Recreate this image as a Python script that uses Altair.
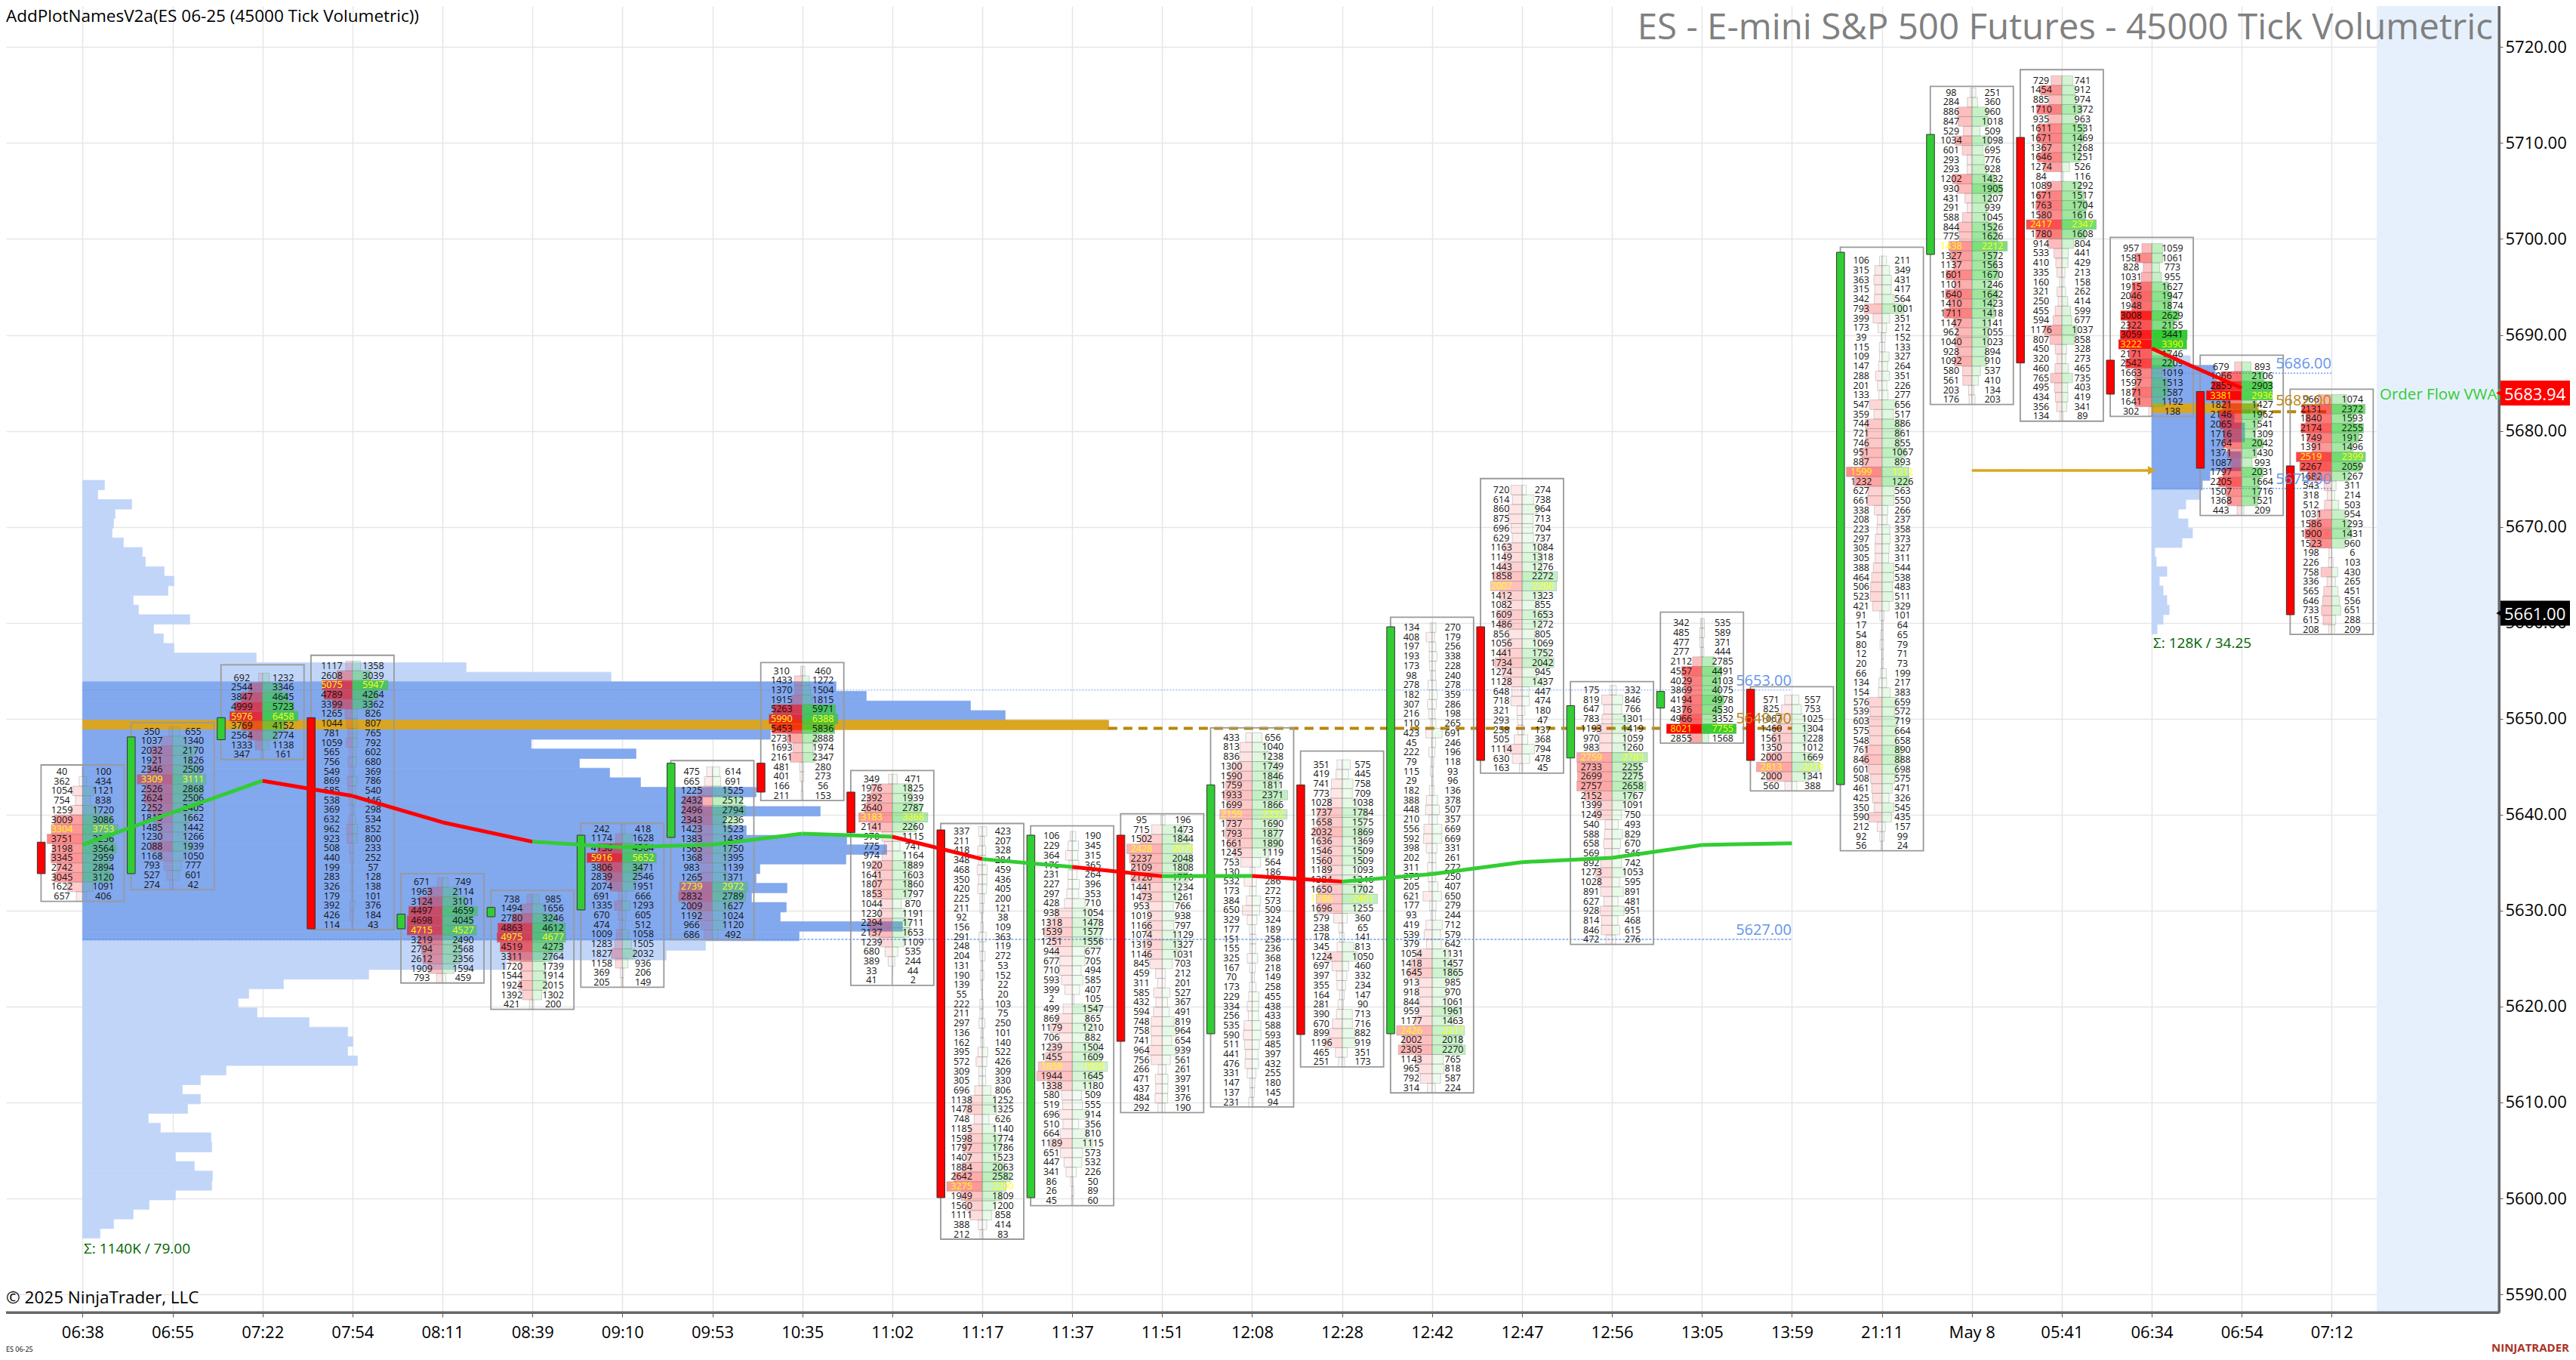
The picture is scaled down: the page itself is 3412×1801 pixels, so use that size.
import json
import altair as alt
import pandas as pd

alt.data_transformers.disable_max_rows()

TICKS = ["06:38","06:55","07:22","07:54","08:11","08:39","09:10","09:53","10:35","11:02","11:17","11:37","11:51",
         "12:08","12:28","12:42","12:47","12:56","13:05","13:59","21:11","May 8","05:41","06:34","06:54","07:12"]
ROW_TOP = [5644.47,5648.68,5654.25,5655.5,5632.95,5631.2,5638.51,5644.47,5654.97,5643.71,5638.25,5637.75,5639.44,
           5648.03,5645.21,5659.5,5673.83,5652.97,5659.95,5651.97,5697.73,5715.25,5716.51,5699.02,5686.69,5683.28]
BOX_TOP = [5645.18,5649.59,5655.62,5656.61,5633.85,5632.1,5639.1,5645.63,5655.86,5644.6,5639.08,5638.84,5640.1,
           5649.05,5646.62,5660.58,5675.03,5653.86,5661.1,5653.34,5699.15,5715.91,5717.65,5700.16,5687.89,5684.34]
CANDLE_TOP = [5637.13,5648.1,5650.11,5650.11,5629.63,5630.33,5637.86,5645.36,5645.36,5642.35,5638.41,5637.86,5637.86,
              5643.1,5643.1,5659.58,5659.58,5651.36,5652.84,5653.07,5698.62,5710.9,5710.59,5687.37,5684.1,5676.35]
CANDLE_BOT = [5633.85,5633.85,5647.81,5628.1,5628.1,5629.36,5630.07,5637.62,5642.35,5638.12,5600.08,5600.08,5616.37,
              5617.16,5617.08,5617.16,5645.65,5645.91,5651.11,5645.65,5643.13,5698.39,5687.08,5683.83,5676.11,5660.84]
CANDLE_UP = [0,1,1,0,1,1,1,1,0,0,0,1,0,1,0,1,0,1,1,0,1,1,0,0,0,0]

BIDS = [
 [40,362,1054,754,1259,3009,3304,3751,3198,3345,2742,3045,1622,657],
 [350,1037,2032,1921,2346,3309,2526,2624,2252,1815,1485,1230,2088,1168,793,527,274],
 [692,2544,3847,4999,5976,3769,2564,1333,347],
 [1117,2608,5075,4789,3399,1265,1044,781,1059,565,756,549,869,685,538,369,632,962,923,508,440,199,283,326,179,392,426,114],
 [671,1963,3124,4497,4698,4715,3219,2794,2612,1909,793],
 [738,1494,2780,4863,4975,4519,3311,1720,1544,1924,1392,421],
 [242,1174,4136,5916,3806,2839,2074,691,1335,670,474,1009,1283,1827,1158,369,205],
 [475,665,1225,2432,2496,2343,1423,1383,1565,1368,983,1265,2739,2832,2009,1192,966,686],
 [310,1433,1370,1915,5263,5990,5453,2731,1693,2161,481,401,166,211],
 [349,1976,2392,2640,3183,2141,970,775,974,1920,1641,1807,1853,1044,1230,2294,2137,1239,680,389,33,41],
 [337,211,418,348,468,350,420,225,211,92,156,291,248,204,131,190,139,55,222,211,297,136,162,395,572,309,305,696,1138,1478,748,1185,1598,1797,1407,1884,2642,3275,1949,1560,1111,388,212],
 [106,229,364,176,231,227,297,428,938,1318,1539,1251,944,677,710,593,399,2,499,869,1179,706,1239,1455,1858,1944,1338,580,519,696,510,664,1189,651,447,341,86,26,45],
 [95,715,1502,2428,2237,2109,2126,1441,1473,953,1019,1166,1074,1319,1146,845,459,311,585,432,594,748,758,741,964,756,266,471,437,484,292],
 [433,813,836,1300,1590,1759,1933,1699,2159,1737,1793,1661,1245,753,130,532,173,384,650,329,177,151,155,325,167,70,173,229,334,256,535,590,511,441,476,331,147,137,231],
 [351,419,741,773,1028,1737,1658,2032,1636,1546,1560,1189,1384,1650,1786,1696,579,238,178,345,1224,697,397,355,164,281,390,670,899,1196,465,251],
 [134,408,197,193,173,98,278,182,307,216,110,423,45,222,79,115,29,182,388,448,210,556,592,398,202,311,273,205,621,177,93,419,539,379,1054,1418,1645,913,918,844,959,1177,2426,2002,2305,1143,965,792,314],
 [720,614,860,875,696,629,1163,1149,1443,1858,2007,1412,1082,1609,1486,856,1056,1441,1734,1274,1128,648,718,321,293,258,505,1114,630,163],
 [175,819,647,783,1193,970,983,2759,2733,2699,2757,2152,1399,1249,540,588,658,569,892,1273,1028,891,627,928,814,846,472],
 [342,485,477,277,2112,4557,4029,3869,4194,4376,4966,8021,2855],
 [571,825,1067,1460,1561,1350,2000,2813,2000,560],
 [106,315,363,315,342,793,399,173,39,115,109,147,288,201,133,547,359,744,721,746,951,887,1599,1232,627,661,338,208,223,297,305,305,388,464,506,523,421,91,17,54,80,12,20,66,134,154,576,539,603,575,548,761,846,601,508,461,425,350,590,212,92,56],
 [98,284,886,847,529,1034,601,293,293,1202,930,431,291,588,844,775,1438,1327,1137,1601,1101,1640,1410,1711,1147,962,1040,928,1092,580,561,203,176],
 [729,1454,885,1710,935,1611,1671,1367,1646,1274,84,1089,1671,1763,1580,2417,1780,914,533,410,335,160,321,250,455,594,1176,807,450,320,460,765,495,434,356,134],
 [957,1581,828,1031,1915,2046,1948,3008,2322,3059,3222,2171,2542,1663,1597,1871,1641,302],
 [679,1966,2855,3381,1821,2146,2065,1716,1764,1371,1087,1797,2205,1507,1368,443],
 [966,2131,1840,2174,1749,1391,2519,2267,1682,543,318,512,1031,1586,1900,1523,198,226,758,336,565,646,733,615,208],
]
ASKS = [
 [100,434,1121,838,1720,3086,3753,3256,3564,2959,2894,3120,1091,406],
 [655,1340,2170,1826,2509,3111,2868,2506,2405,1662,1442,1266,1939,1050,777,601,42],
 [1232,3346,4645,5723,6458,4152,2774,1138,161],
 [1358,3039,5947,4264,3362,826,807,765,792,602,680,369,786,540,446,298,534,852,800,233,252,57,128,138,101,376,184,43],
 [749,2114,3101,4659,4045,4527,2490,2568,2356,1594,459],
 [985,1656,3246,4612,4677,4273,2764,1739,1914,2015,1302,200],
 [418,1628,4564,5652,3471,2546,1951,666,1293,605,512,1058,1505,2032,936,206,149],
 [614,691,1525,2512,2794,2236,1523,1438,1750,1395,1139,1371,2972,2789,1627,1024,1120,492],
 [460,1272,1504,1815,5971,6388,5836,2888,1974,2347,280,273,56,153],
 [471,1825,1939,2787,3368,2260,1115,741,1164,1889,1603,1860,1797,870,1191,1711,1653,1109,535,244,44,2],
 [423,207,328,284,459,436,405,200,121,38,109,363,119,272,53,152,22,20,103,75,250,101,140,522,426,309,330,806,1252,1325,626,1140,1774,1786,1523,2063,2582,2200,1809,1200,858,414,83],
 [190,345,315,365,264,396,353,710,1054,1478,1577,1556,677,705,494,585,407,105,1547,865,1210,882,1504,1609,1928,1645,1180,509,555,914,356,810,1115,573,532,226,50,89,60],
 [196,1473,1844,2073,2048,1808,1770,1234,1261,766,938,797,1129,1327,1031,703,212,201,527,367,491,819,964,654,939,561,261,397,391,376,190],
 [656,1040,1238,1749,1846,1811,2371,1866,2332,1690,1877,1890,1119,564,186,286,272,573,509,324,189,258,236,368,218,149,258,455,438,433,588,593,485,397,432,255,180,145,94],
 [575,445,758,709,1038,1784,1575,1869,1369,1509,1509,1093,1346,1702,2461,1255,360,65,141,813,1050,460,332,234,147,90,713,716,882,919,351,173],
 [270,179,256,338,228,240,278,359,286,198,265,691,246,196,118,93,96,136,378,507,357,669,669,331,261,272,250,407,650,279,244,712,579,642,1131,1457,1865,985,970,1061,1961,1463,2217,2018,2270,765,818,587,224],
 [274,738,964,713,704,737,1084,1318,1276,2272,2206,1323,855,1653,1272,805,1069,1752,2042,945,1437,447,474,180,47,137,368,794,478,45],
 [332,846,766,1301,1419,1059,1260,2783,2255,2275,2658,1767,1091,750,493,829,670,546,742,1053,595,891,481,951,468,615,276],
 [535,589,371,444,2785,4491,4103,4075,4978,4530,3352,7755,1568],
 [557,753,1025,1304,1228,1012,1669,2219,1341,388],
 [211,349,431,417,564,1001,351,212,152,133,327,264,351,226,277,656,517,886,861,855,1067,893,1212,1226,563,550,266,237,358,373,327,311,544,538,483,511,329,101,64,65,79,71,73,199,217,383,659,572,719,664,658,890,888,698,575,471,326,545,435,157,99,24],
 [251,360,960,1018,509,1098,695,776,928,1432,1905,1207,939,1045,1526,1626,2212,1572,1563,1670,1246,1642,1423,1418,1141,1055,1023,894,910,537,410,134,203],
 [741,912,974,1372,963,1531,1469,1268,1251,526,116,1292,1517,1704,1616,2347,1608,804,441,429,213,158,262,414,599,677,1037,858,328,273,465,735,403,419,341,89],
 [1059,1061,773,955,1627,1947,1874,2629,2155,3441,3390,1746,2209,1019,1513,1587,1192,138],
 [893,2106,2903,2936,1427,1962,1541,1309,2042,1430,993,2031,1664,1716,1521,209],
 [1074,2372,1593,2255,1912,1496,2399,2059,1267,311,214,503,954,1293,1431,960,6,103,430,265,451,556,651,288,209],
]

VWAP_A = [5636.87,5640.22,5643.53,5641.95,5639.2,5637.18,5636.6,5636.87,5638.02,5637.7,5635.37,5634.55,5633.58,
          5633.61,5633.01,5633.8,5635.05,5635.5,5636.84,5637.02]
VWAP_A_UP = [1,1,0,0,0,1,1,1,1,0,1,0,1,0,1,1,1,1,1]
VWAP_B = [5688.59,5684.46]

# session volume profiles, row lengths
PROFILE_A_TOP = 5674.85
PROFILE_A_HIGH = [29,20,65,43,41,39,54,79,83,108,121,113,67,74,142,94,107,121,230,508,700]
PROFILE_A_VALUE = [998,1038,1176,1222,1359,911,594,733,658,698,739,892,821,977,851,879,1012,1065,1011,897,892,933,886,932,924,1086,949]
PROFILE_A_LOW = [825,773,561,379,266,220,206,231,300,351,358,351,364,190,156,132,156,139,87,103,170,171,123,148,172,171,123,88,67,41,23]
PROFILE_A_POC = 4
PROFILE_B_TOP = 5687.84
PROFILE_B_HIGH = [51]
PROFILE_B_VALUE = [84,86,95,104,141,109,123,123,95,118,118,77,67]
PROFILE_B_LOW = [64,45,35,48,54,40,4,6,20,10,15,20,23,15,7]
PROFILE_B_POC = 4

PX0, DX = 109.4, 119.16       # first bar and spacing
PLOT_L, PLOT_R, PLOT_T, PLOT_B = 8.0, 3310.0, 8.0, 1738.0
Y5680, YPP = 570.6, 12.705
X_DOM = [(PLOT_L - PX0) / DX, (PLOT_R - PX0) / DX]
Y_DOM = [5680 - (PLOT_B - Y5680) / YPP, 5680 + (Y5680 - PLOT_T) / YPP]
W, H = PLOT_R - PLOT_L, PLOT_B - PLOT_T
FONT = "Open Sans"

xs = alt.Scale(domain=X_DOM, range=[0, W], nice=False, zero=False)
ys = alt.Scale(domain=Y_DOM, range=[H, 0], nice=False, zero=False)
AX = alt.Axis(
    values=list(range(26)), labelExpr=json.dumps(TICKS) + "[datum.value]",
    labelFont=FONT, labelFontSize=22, labelColor="#000", labelPadding=10, labelOverlap=False, labelFlush=False,
    tickSize=6, tickColor="#555", domainColor="#666", domainWidth=3, title=None,
    grid=True, gridColor="#e6e6e6", gridWidth=1.5)
AY = alt.Axis(
    orient="right", values=list(range(5590, 5721, 10)), format=".2f",
    labelFont=FONT, labelFontSize=22, labelColor="#000", labelPadding=3, labelOverlap=False, labelFlush=False,
    tickSize=5, tickColor="#555", domainColor="#666", domainWidth=3, title=None,
    grid=True, gridColor="#e6e6e6", gridWidth=1.5)
def X(f): return alt.X(f + ":Q", scale=xs, axis=AX, title=None)
def Y(f): return alt.Y(f + ":Q", scale=ys, axis=AY, title=None)

# ---- tables
cells, texts, boxes = [], [], []
HALF_CELL, TEXT_OFF, HALF_BOX = 47 / DX, 27.4 / DX, 55 / DX
for i, (bid, ask) in enumerate(zip(BIDS, ASKS)):
    vmax = max(max(bid), max(ask))
    alpha_ref = 8021 if i <= 19 else 3441
    best = max(range(len(bid)), key=lambda k: bid[k] + ask[k])
    for k, (b, a) in enumerate(zip(bid, ask)):
        c = ROW_TOP[i] - k
        cells.append(dict(x=i - HALF_CELL * b / vmax, x2=i, y=c + .5, y2=c - .5,
                          fill=f"rgba(255,0,0,{min(1, b / alpha_ref):.3f})"))
        cells.append(dict(x=i, x2=i + HALF_CELL * a / vmax, y=c + .5, y2=c - .5,
                          fill=f"rgba(50,205,50,{min(1, a / alpha_ref):.3f})"))
        col = "#ffff00" if k == best else "#111111"
        texts.append(dict(x=i - TEXT_OFF, y=c, t=str(b), c=col))
        texts.append(dict(x=i + TEXT_OFF, y=c, t=str(a), c=col))
    boxes.append(dict(x=i - HALF_BOX, x2=i + HALF_BOX, y=BOX_TOP[i], y2=ROW_TOP[i] - len(bid) + .5))

prof = []
def add_profile(start, top, high, value, low, poc):
    r = top
    for w in high:
        prof.append(dict(x=start, x2=start + w / DX, y=r, y2=r - 1, c="#c1d5f8")); r -= 1
    for j, w in enumerate(value):
        prof.append(dict(x=start, x2=start + w / DX, y=r, y2=r - 1, c="#daa520" if j == poc else "#82a8ee")); r -= 1
    for w in low:
        prof.append(dict(x=start, x2=start + w / DX, y=r, y2=r - 1, c="#c1d5f8")); r -= 1
add_profile(0, PROFILE_A_TOP, PROFILE_A_HIGH, PROFILE_A_VALUE, PROFILE_A_LOW, PROFILE_A_POC)
add_profile(23, PROFILE_B_TOP, PROFILE_B_HIGH, PROFILE_B_VALUE, PROFILE_B_LOW, PROFILE_B_POC)

vw = []
for j, up in enumerate(VWAP_A_UP):
    col = "#32cd32" if up else "#ff0000"
    vw.append(dict(x=j, y=VWAP_A[j], s=j, c=col))
    vw.append(dict(x=j + 1, y=VWAP_A[j + 1], s=j, c=col))
vw.append(dict(x=23, y=VWAP_B[0], s=100, c="#ff0000"))
vw.append(dict(x=24, y=VWAP_B[1], s=100, c="#ff0000"))

candles = pd.DataFrame(dict(
    x=[i - 60 / DX for i in range(26)], x2=[i - 49.5 / DX for i in range(26)],
    y=CANDLE_TOP, y2=CANDLE_BOT, c=["#32cd32" if u else "#ff0000" for u in CANDLE_UP]))

# ---- layers
session = alt.Chart(pd.DataFrame(dict(x=[25.5], x2=[X_DOM[1]], y=[Y_DOM[1]], y2=[Y_DOM[0]]))).mark_rect(
    color="#e6f0fd").encode(x=X("x"), x2="x2:Q", y=Y("y"), y2="y2:Q")

profile = alt.Chart(pd.DataFrame(prof)).mark_rect(strokeWidth=0.7).encode(
    x=X("x"), x2="x2:Q", y=Y("y"), y2="y2:Q", color=alt.Color("c:N", scale=None), stroke=alt.Stroke("c:N", scale=None))

def hline(x0, x1, price, color, width, dash, opacity=1.0):
    return alt.Chart(pd.DataFrame(dict(x=[x0], x2=[x1], y=[price]))).mark_rule(
        color=color, strokeWidth=width, strokeDash=dash, opacity=opacity).encode(x=X("x"), x2="x2:Q", y=Y("y"))

levels = [
    hline(0, 19, 5653, "#6495ed", 1.5, [2, 2], .6),
    hline(0, 19, 5627, "#6495ed", 1.5, [3, 2], .9),
    hline(23, 25, 5686, "#6495ed", 1.5, [2, 2], .9),
    hline(23, 25, 5674, "#6495ed", 1.5, [2, 2], .9),
    hline(11.4, 19, 5649, "#b8860b", 4, [12, 8]),
    hline(24, 25, 5682, "#b8860b", 4, [12, 8]),
    hline(21, 23, 5675.88, "#daa520", 3.5, [1, 0]),
]
arrow = alt.Chart(pd.DataFrame(dict(x=[23], y=[5675.88]))).mark_point(
    shape="triangle-right", filled=True, color="#daa520", size=140, opacity=1).encode(x=X("x"), y=Y("y"))

cell = alt.Chart(pd.DataFrame(cells)).mark_rect(stroke="#888888", strokeOpacity=.35, strokeWidth=1).encode(
    x=X("x"), x2="x2:Q", y=Y("y"), y2="y2:Q", fill=alt.Fill("fill:N", scale=None))
box = alt.Chart(pd.DataFrame(boxes)).mark_rect(fill=None, fillOpacity=0, stroke="#999999", strokeWidth=1.8).encode(
    x=X("x"), x2="x2:Q", y=Y("y"), y2="y2:Q")
candle = alt.Chart(candles).mark_rect(stroke="#333333", strokeWidth=1).encode(
    x=X("x"), x2="x2:Q", y=Y("y"), y2="y2:Q", color=alt.Color("c:N", scale=None))
text = alt.Chart(pd.DataFrame(texts)).mark_text(font=FONT, fontSize=12.5, align="center", baseline="middle").encode(
    x=X("x"), y=Y("y"), text="t:N", color=alt.Color("c:N", scale=None))
vwap = alt.Chart(pd.DataFrame(vw)).mark_line(strokeWidth=5, strokeCap="butt").encode(
    x=X("x"), y=Y("y"), detail="s:N", color=alt.Color("c:N", scale=None))

def ann(t, px, py, size, color, align="left", weight="normal", font=FONT):
    return alt.Chart(pd.DataFrame(dict(t=[t]))).mark_text(
        font=font, fontSize=size, color=color, align=align, baseline="middle", fontWeight=weight).encode(
        x=alt.value(px - 8), y=alt.value(py - 8), text="t:N")

def tag(price, color):
    return alt.Chart(pd.DataFrame(dict(x=[X_DOM[1] + 2 / DX], x2=[X_DOM[1] + 104 / DX], y=[price + 1.3], y2=[price - 1.3]))).mark_rect(
        color=color).encode(x=X("x"), x2="x2:Q", y=Y("y"), y2="y2:Q")
def tag_tip(price, color):
    return alt.Chart(pd.DataFrame(dict(x=[X_DOM[1] + 1 / DX], y=[price]))).mark_point(
        shape="triangle-left", filled=True, color=color, size=120, opacity=1).encode(x=X("x"), y=Y("y"))

# axis lines, drawn above the session band
frame_x = hline(X_DOM[0], X_DOM[1], Y_DOM[0], "#666666", 3, [1, 0])
frame_y = alt.Chart(pd.DataFrame(dict(x=[X_DOM[1]], y=[Y_DOM[1]], y2=[Y_DOM[0]]))).mark_rule(
    color="#666666", strokeWidth=3).encode(x=X("x"), y=Y("y"), y2="y2:Q")

notes = [
    ann("AddPlotNamesV2a(ES 06-25 (45000 Tick Volumetric))", 8, 22, 22.5, "#000000"),
    ann("ES - E-mini S&P 500 Futures - 45000 Tick Volumetric", 3302, 38, 47.5, "#808080", "right"),
    ann("\u00a9 2025 NinjaTrader, LLC", 8, 1719, 22.5, "#000000"),
    ann("ES 06-25", 8, 1787, 9, "#000000"),
    ann("NINJATRADER", 3403, 1785, 15, "#a93226", "right", "bold"),
    ann("\u03a3: 1140K / 79.00", 111, 1654, 19, "#006400"),
    ann("\u03a3: 128K / 34.25", 2852, 852, 19, "#006400"),
    ann("5653.00", 2373, 902, 20, "#6495ed", "right"),
    ann("5627.00", 2373, 1232, 20, "#6495ed", "right"),
    ann("5649.00", 2373, 952, 20, "#b8860b", "right"),
    ann("5686.00", 3088, 482, 20, "#6495ed", "right"),
    ann("5674.00", 3088, 635, 20, "#6495ed", "right"),
    ann("5682.00", 3088, 531, 20, "#b8860b", "right"),
    ann("Order Flow VWAP", 3152, 523, 20.5, "#32cd32"),
    tag_tip(5683.94, "#ff0000"), tag(5683.94, "#ff0000"),
    tag_tip(5661.0, "#000000"), tag(5661.0, "#000000"),
    ann("5683.94", 3317, 523, 22, "#ffffff"),
    ann("5661.00", 3317, 813.6, 22, "#ffffff"),
]

chart = alt.layer(session, profile, *levels, arrow, cell, box, candle, text, vwap, frame_x, frame_y, *notes).properties(
    width=W, height=H,
    padding={"left": 0, "top": 0, "right": 94, "bottom": 55},
    autosize=alt.AutoSizeParams(type="none"),
).configure_view(stroke=None)

chart.save("out.html", embed_options={"renderer": "svg", "actions": False})
